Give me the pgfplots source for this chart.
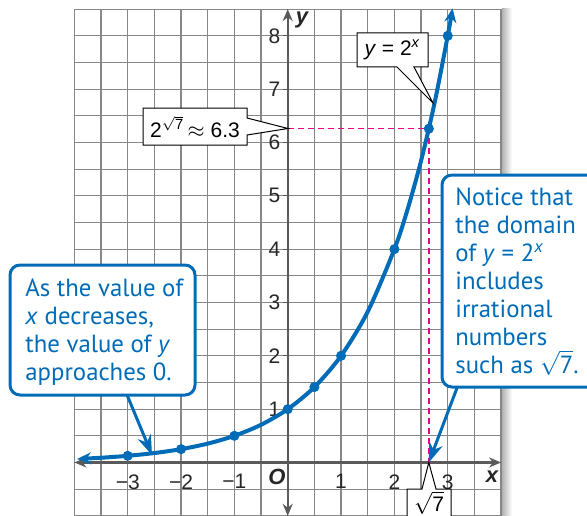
\documentclass[border=0pt]{standalone}
\usepackage{fontspec}
\setmainfont{Liberation Sans}
\newfontfamily\callfont{PT Sans}
\usepackage{pgfplots}
\pgfplotsset{compat=1.18}
\usetikzlibrary{arrows.meta}
\definecolor{cblue}{RGB}{0,108,183}
\definecolor{cpink}{RGB}{236,0,140}
\definecolor{gridgray}{RGB}{135,135,135}
\definecolor{axgray}{RGB}{90,90,90}

\begin{document}
\begin{tikzpicture}
\useasboundingbox (0,0) rectangle (293.5pt,257.5pt);
\begin{axis}[
    at={(37.2pt,-0.4pt)}, anchor=south west,
    x=26.667pt, y=26.667pt,
    xmin=-4, xmax=4, ymin=-1, ymax=8.5,
    enlargelimits=false,
    clip=false,
    axis lines=middle,
    axis line style={axgray, line width=1.2pt,
      {Stealth[length=6pt,width=5pt]}-{Stealth[length=6pt,width=5pt]}},
    xtick={-3,-2,-1,1,2,3},
    xticklabels={−3,−2,−1,1,2,3},
    ytick={1,2,3,4,5,6,7,8},
    yticklabels={1,2,3,4,5,6,7,8},
    minor xtick={-4,-3.5,...,4},
    minor ytick={-1,-0.5,...,8.5},
    grid=both,
    grid style={gridgray, line width=0.6pt},
    minor grid style={gridgray, line width=0.6pt},
    tick align=outside,
    major tick length=2.5pt,
    minor tick length=0pt,
    xtick style={draw=none},
    ytick style={axgray, line width=0.6pt},
    tick label style={font=\fontsize{10.5}{12}\selectfont, text=black!85},
    xticklabel style={anchor=north, yshift=0pt},
    yticklabel style={anchor=east, inner xsep=0pt, xshift=-1pt},
]
% dashed guide lines to (sqrt 7, 2^sqrt 7)
\addplot[cpink, line width=0.7pt, dash pattern=on 3pt off 2pt]
  coordinates {(0,6.2582) (2.6458,6.2582) (2.6458,0)};
% y = 2^x
\addplot[cblue, line width=2pt, smooth,
  {Stealth[length=7pt,width=6pt]}-{Stealth[length=7pt,width=6pt]}]
  coordinates {
    (-3.95,0.0647) (-3.5,0.0884) (-3,0.125) (-2.5,0.1768) (-2,0.25)
    (-1.5,0.3536) (-1,0.5) (-0.5,0.7071) (0,1) (0.5,1.4142) (1,2)
    (1.5,2.8284) (2,4) (2.25,4.7568) (2.5,5.6569) (2.75,6.7272)
    (3,8) (3.09,8.514)
  };
\addplot[cblue, only marks, mark=*, mark size=2.3pt]
  coordinates {
    (-3,0.125) (-2,0.25) (-1,0.5) (0,1) (0.5,1.4142) (1,2)
    (2,4) (2.6458,6.2582) (3,8)
  };
\end{axis}

\begin{scope}[x=0.5pt, y=-0.5pt, shift={(0pt,257.5pt)}]
  % shadow on the right of the grid
  \shade[left color=black!30, right color=white] (502,9) rectangle (512,515);

  % axis letters
  \node[font=\bfseries\itshape\fontsize{11}{13}\selectfont, text=black!85] at (302,20) {y};
  \node[font=\bfseries\itshape\fontsize{11}{13}\selectfont, text=black!85] at (492,477) {x};
  \node[font=\bfseries\itshape\fontsize{11}{13}\selectfont, text=black!85] at (277,477) {O};

  % boxed labels
  \draw[black, line width=0.5pt, fill=white]
    (143,108) -- (247,108) -- (247,118) -- (288,128.5) -- (247,135)
    -- (247,145) -- (143,145) -- cycle;
  \node[font=\fontsize{10.5}{12}\selectfont] at (195,127)
    {2\textsuperscript{$\sqrt{\mbox{7}}$}\,$\approx$ 6.3};

  \draw[black, line width=0.5pt, fill=white]
    (357,33) -- (428,33) -- (428,67) -- (414,67) -- (433,103) -- (397,67)
    -- (357,67) -- cycle;
  \node[font=\fontsize{10.5}{12}\selectfont] at (392.5,50)
    {\textit{y} = 2\textsuperscript{\textit{x}}};

  \draw[black, line width=0.5pt, fill=white]
    (407,489) -- (422,489) -- (428.8,462.5) -- (436,489) -- (451,489)
    -- (451,525) -- (407,525) -- cycle;
  \node[font=\fontsize{10.5}{12}\selectfont, inner sep=1pt] at (429,503) {$\sqrt{\mbox{7}}$};

  % left callout
  \draw[cblue, line width=1.5pt, -{Stealth[length=10pt,width=7pt]}]
    (125,390) -- (152,455);
  \draw[cblue, line width=1.5pt, fill=white, rounded corners=5pt]
    (10,265) rectangle (195,395);
  \node[anchor=north west, align=left, inner sep=0pt, text=cblue,
        font=\callfont\fontsize{12.4}{14}\selectfont] at (25,278)
    {As the value of\\\textit{x} decreases,\\the value of \textit{y}\\approaches 0.};

  % right callout
  \draw[cblue, line width=1.5pt, -{Stealth[length=10pt,width=7pt]}]
    (460,380) -- (428.8,462.5);
  \draw[cblue, line width=1.5pt, fill=white, rounded corners=5pt]
    (442,175) rectangle (610,387);
  \node[anchor=north west, align=left, inner sep=0pt, text=cblue,
        font=\callfont\fontsize{12.4}{14}\selectfont] at (455,187)
    {Notice that\\the domain\\of \textit{y} = 2\textsuperscript{\textit{x}}\\includes\\irrational\\numbers\\such as \smash{$\sqrt{\mbox{7}}$}.};
\end{scope}
\end{tikzpicture}
\end{document}
